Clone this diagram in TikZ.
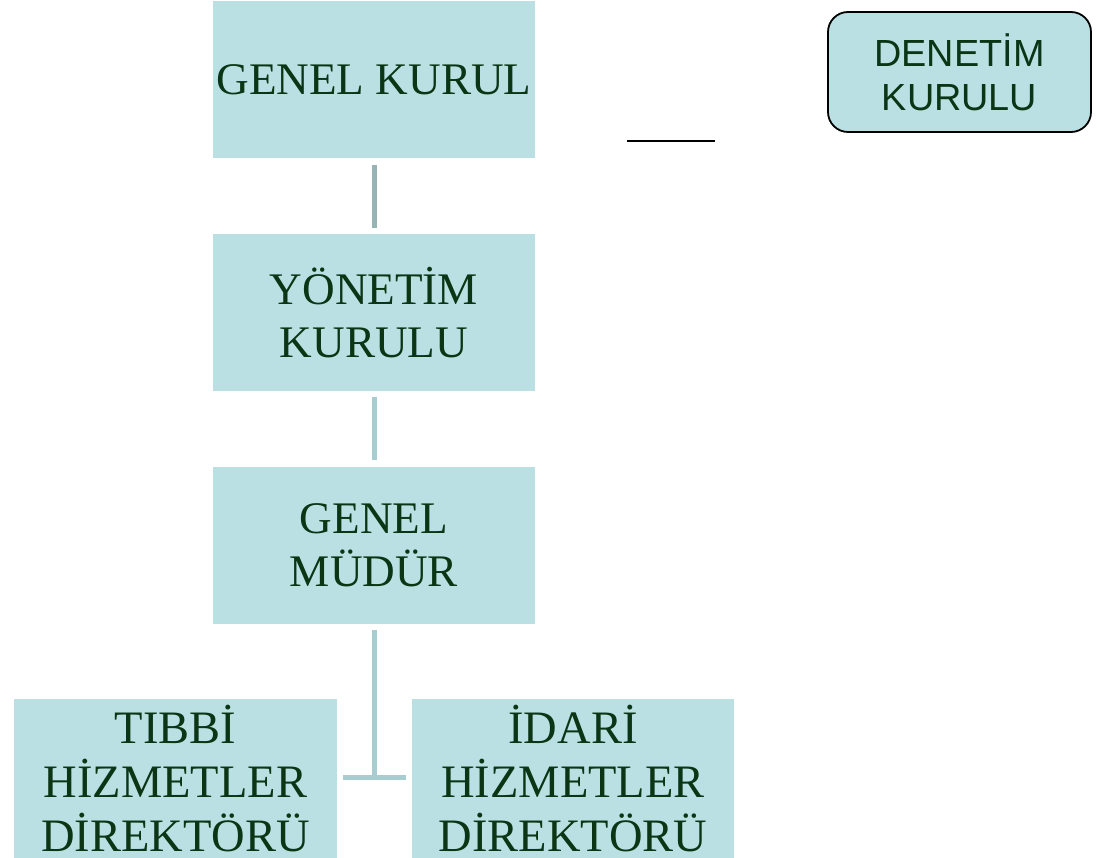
\documentclass[tikz,border=0pt]{standalone}
\usepackage{fontspec}
\setmainfont{Liberation Serif}
\newfontfamily\denfont{Liberation Sans}
\usetikzlibrary{calc}
\definecolor{boxfill}{HTML}{BBE0E3}
\definecolor{txtgreen}{HTML}{0B3514}
\definecolor{linkdark}{HTML}{96B4B6}
\definecolor{linklight}{HTML}{A8CDD0}
\tikzset{
  orgbox/.style={rectangle, fill=boxfill, draw=none, minimum width=322pt, minimum height=157pt,
    inner sep=0pt, align=center, text=txtgreen, font=\fontsize{45.2}{53.5}\selectfont},
  lowbox/.style={orgbox, minimum height=159pt, font=\fontsize{46.5}{54}\selectfont},
  denbox/.style={rectangle, rounded corners=20pt, fill=boxfill, draw=black, line width=1.8pt,
    minimum width=263pt, minimum height=120pt, inner sep=0pt, align=center, text=txtgreen,
    font=\denfont\fontsize{37.8}{44}\selectfont},
  linkline/.style={line width=5pt},
}
\begin{document}
\begin{tikzpicture}[x=1pt,y=-1pt]
\useasboundingbox (0,0) rectangle (1097,858);
\clip (0,0) rectangle (1097,858);
\node[orgbox] (gk) at (374,79.5) {GENEL KURUL};
\node[orgbox] (yk) at (374,312.5) {YÖNETİM\\KURULU};
\node[orgbox] (gm) at (374,545.5) {GENEL\\MÜDÜR};
\node[lowbox, minimum width=323pt] (tb) at (175.5,778.5) {TIBBİ\\HİZMETLER\\DİREKTÖRÜ};
\node[lowbox] (id) at (573,778.5) {İDARİ\\HİZMETLER\\DİREKTÖRÜ};
\node[denbox] (dk) at (959.5,72) {DENETİM\\KURULU};
% connectors
\draw[linkline, draw=linkdark] ($(gk.south)+(0,7)$) -- ($(yk.north)+(0,-6)$);
\draw[linkline, draw=linklight] ($(yk.south)+(0,6)$) -- ($(gm.north)+(0,-7)$);
\coordinate (jn) at (374,777.5);
\draw[linkline, draw=linklight] ($(gm.south)+(0,6)$) -- (jn);
\draw[linkline, draw=linklight] ($(tb.east)+(6,-1)$) -- ($(id.west)+(-6,-1)$);
% stray black line
\coordinate (s1) at (627,141);
\coordinate (s2) at (715,141);
\draw[line width=1.8pt, black] (s1) -- (s2);
\end{tikzpicture}
\end{document}
